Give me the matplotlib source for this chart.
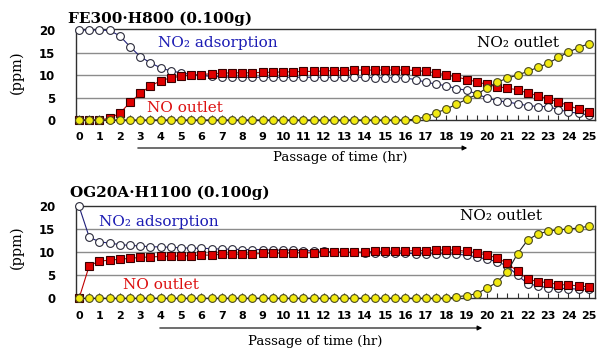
import matplotlib
matplotlib.use("Agg")
import matplotlib.pyplot as plt
from matplotlib.patches import FancyArrowPatch

# ─── DATA ─────────────────────────────────────────────────────────────────────
TIME_HR = [0, 0.5, 1, 1.5, 2, 2.5, 3, 3.5, 4, 4.5, 5, 5.5, 6, 6.5, 7, 7.5, 8,
           8.5, 9, 9.5, 10, 10.5, 11, 11.5, 12, 12.5, 13, 13.5, 14, 14.5, 15,
           15.5, 16, 16.5, 17, 17.5, 18, 18.5, 19, 19.5, 20, 20.5, 21, 21.5,
           22, 22.5, 23, 23.5, 24, 24.5, 25]
X_TICKS = list(range(0, 26))
Y_TICKS = [0, 5, 10, 15, 20]

# FE300·H800
FE_NO2_ADS = [20.0, 20.0, 20.0, 19.9, 18.7, 16.3, 14.1, 12.7, 11.6, 10.9, 10.5,
              10.1, 9.9, 9.7, 9.6, 9.5, 9.5, 9.5, 9.5, 9.5, 9.5, 9.5, 9.5, 9.5,
              9.5, 9.5, 9.5, 9.5, 9.5, 9.4, 9.4, 9.4, 9.3, 9.0, 8.4, 8.0, 7.6,
              7.0, 6.6, 5.8, 4.9, 4.3, 4.0, 3.6, 3.2, 3.0, 3.0, 2.3, 1.8, 1.5, 1.1]
FE_NO_OUT = [0.0, 0.0, 0.0, 0.4, 1.5, 3.9, 5.9, 7.6, 8.7, 9.4, 9.7, 10.0, 10.1,
             10.3, 10.4, 10.5, 10.5, 10.5, 10.6, 10.6, 10.7, 10.7, 10.8, 10.8,
             10.9, 11.0, 11.0, 11.1, 11.1, 11.1, 11.1, 11.1, 11.1, 11.0, 10.8,
             10.5, 10.0, 9.6, 9.0, 8.5, 7.9, 7.4, 7.1, 6.7, 6.0, 5.4, 4.7, 4.0,
             3.2, 2.4, 1.8]
FE_NO2_OUT = [0.0] * 33 + [0.2, 0.7, 1.6, 2.4, 3.5, 4.6, 5.7, 7.1, 8.4, 9.3,
                           10.0, 10.8, 11.7, 12.6, 13.9, 15.1, 16.1, 17.0]

# OG20A·H1100
OG_NO2_ADS = [20.0, 13.3, 12.3, 12.0, 11.7, 11.5, 11.4, 11.2, 11.2, 11.1, 11.0,
              10.9, 10.9, 10.8, 10.7, 10.7, 10.6, 10.6, 10.6, 10.5, 10.5, 10.5,
              10.4, 10.3, 10.2, 10.1, 10.0, 10.0, 9.9, 9.9, 9.8, 9.8, 9.8, 9.7,
              9.7, 9.7, 9.7, 9.6, 9.4, 9.0, 8.5, 8.0, 7.0, 5.0, 3.2, 2.7, 2.3,
              2.2, 2.1, 2.0, 2.0]
OG_NO_OUT = [0.0, 7.1, 8.1, 8.3, 8.5, 8.7, 8.9, 9.0, 9.1, 9.2, 9.2, 9.3, 9.4,
             9.4, 9.6, 9.6, 9.6, 9.6, 9.8, 9.8, 9.8, 9.9, 9.9, 9.9, 10.0, 10.0,
             10.0, 10.0, 10.1, 10.2, 10.2, 10.3, 10.3, 10.4, 10.4, 10.5, 10.5,
             10.5, 10.2, 9.9, 9.4, 8.8, 7.6, 5.9, 4.2, 3.6, 3.4, 3.0, 2.9, 2.7,
             2.5]
OG_NO2_OUT = [0.0] * 37 + [0.3, 0.6, 1.0, 2.2, 3.5, 5.8, 9.7, 12.7, 14.0, 14.6,
                           14.9, 15.1, 15.3, 15.7]
# ──────────────────────────────────────────────────────────────────────────────

W, H = 603, 350
SERIF = "DejaVu Serif"
BLUE_TXT = "#1c1cb4"
RED_TXT = "#dc1010"


def fx(px):
    return px / W


def fy(py):
    return 1 - py / H


def draw_panel(fig, rect, ymax, ads, no_out, no2_out, labels):
    ax = fig.add_axes(rect)

    for yv in Y_TICKS[1:-1]:
        ax.axhline(yv, color="#8c8c8c", linewidth=1, zorder=1)

    ax.plot(TIME_HR, ads, color="#20207a", linewidth=0.8, marker="o",
            markersize=5.6, markerfacecolor="white", markeredgecolor="#2a2a3a",
            markeredgewidth=0.8, zorder=3, clip_on=False)
    ax.plot(TIME_HR, no_out, color="#c00000", linewidth=0.8, marker="s",
            markersize=5.6, markerfacecolor="#e00000", markeredgecolor="#3a0000",
            markeredgewidth=0.8, zorder=4, clip_on=False)
    ax.plot(TIME_HR, no2_out, color="#202020", linewidth=0.8, marker="o",
            markersize=5.6, markerfacecolor="#f2ea10", markeredgecolor="#4a4a20",
            markeredgewidth=0.8, zorder=5, clip_on=False)

    ax.set_xlim(-0.15, 25.3)
    ax.set_ylim(0, ymax)
    ax.set_xticks(X_TICKS)
    ax.set_xticks(TIME_HR, minor=True)
    ax.set_yticks(Y_TICKS)
    ax.tick_params(axis="x", which="both", direction="in", length=3.5,
                   width=0.8, color="#303030", pad=9, labelsize=8)
    ax.tick_params(axis="y", length=0, pad=15, labelsize=8.5)
    for lab in ax.get_xticklabels() + ax.get_yticklabels():
        lab.set_fontweight("bold")
    for sp in ax.spines.values():
        sp.set_color("#303030")
        sp.set_linewidth(1)

    for (x, y, s, c) in labels:
        ax.text(x, y, s, ha="center", va="center", color=c, family=SERIF,
                fontsize=11, zorder=6)
    return ax


def add_arrow(fig, x0, x1, y):
    arr = FancyArrowPatch((fx(x0), fy(y)), (fx(x1), fy(y)),
                          transform=fig.transFigure, arrowstyle="-|>",
                          mutation_scale=7, linewidth=0.8, color="black")
    fig.add_artist(arr)


fig = plt.figure(figsize=(W / 100, H / 100), dpi=100)

# top panel
draw_panel(fig, [fx(76), fy(120), fx(595) - fx(76), (120 - 28.7) / H], 20.3,
           FE_NO2_ADS, FE_NO_OUT, FE_NO2_OUT,
           [(6.8, 17.1, "NO₂ adsorption", BLUE_TXT),
            (5.2, 2.7, "NO outlet", RED_TXT),
            (21.5, 17.1, "NO₂ outlet", "black")])
fig.text(fx(68), fy(19), "FE300·H800 (0.100g)", ha="left", va="center",
         family=SERIF, fontweight="bold", fontsize=11)
fig.text(fx(17), fy(72), "(ppm)", ha="center", va="center", rotation=90,
         family=SERIF, fontsize=10.5)
add_arrow(fig, 135, 470, 148)
fig.text(fx(340), fy(157), "Passage of time (hr)", ha="center", va="center",
         family=SERIF, fontsize=9.5)

# bottom panel
draw_panel(fig, [fx(76), fy(298.3), fx(595) - fx(76), (298.3 - 205.5) / H], 20.2,
           OG_NO2_ADS, OG_NO_OUT, OG_NO2_OUT,
           [(3.9, 16.6, "NO₂ adsorption", BLUE_TXT),
            (4.0, 2.9, "NO outlet", RED_TXT),
            (20.7, 17.9, "NO₂ outlet", "black")])
fig.text(fx(70), fy(193), "OG20A·H1100 (0.100g)", ha="left", va="center",
         family=SERIF, fontweight="bold", fontsize=11)
fig.text(fx(17), fy(247), "(ppm)", ha="center", va="center", rotation=90,
         family=SERIF, fontsize=10.5)
add_arrow(fig, 157, 485, 328)
fig.text(fx(315), fy(342), "Passage of time (hr)", ha="center", va="center",
         family=SERIF, fontsize=9.5)

fig.savefig("out.png", dpi=100)
